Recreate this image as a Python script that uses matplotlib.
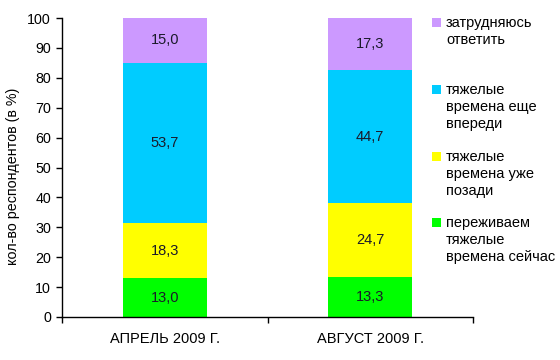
import matplotlib
matplotlib.use("Agg")
import matplotlib.pyplot as plt
from matplotlib.patches import Rectangle
import numpy as np

plt.rcParams['font.family'] = ['Liberation Sans', 'DejaVu Sans']

# data
categories = ['АПРЕЛЬ 2009 Г.', 'АВГУСТ 2009 Г.']
series_names = ['переживаем\nтяжелые\nвремена сейчас',
                'тяжелые\nвремена уже\nпозади',
                'тяжелые\nвремена еще\nвпереди',
                'затрудняюсь\nответить']
now_hard = [13.0, 13.3]
hard_behind = [18.3, 24.7]
hard_ahead = [53.7, 44.7]
hard_to_say = [15.0, 17.3]
colors = ['#00FF00', '#FFFF00', '#00CCFF', '#CC99FF']

series = [now_hard, hard_behind, hard_ahead, hard_to_say]

fig = plt.figure(figsize=(5.6, 3.6), dpi=100)
ax = fig.add_axes([62/560, 1 - 317/360, 411/560, 299/360])

x = np.arange(len(categories))
bottom = np.zeros(len(categories))
for vals, col in zip(series, colors):
    vals = np.array(vals)
    ax.bar(x, vals, width=0.41, bottom=bottom, color=col, edgecolor='none')
    for xi, b, v in zip(x, bottom, vals):
        ax.text(xi, b + v / 2, f'{v:.1f}'.replace('.', ','), ha='center', va='center',
                fontsize=10.5, color='#1a1a2a')
    bottom += vals

ax.set_xlim(-0.5, 1.5)
ax.set_ylim(0, 100)
ax.set_yticks(range(0, 101, 10))
ax.set_xticks(x)
ax.set_xticklabels(categories, fontsize=10.5)
ax.set_xticks([-0.5, 0.5, 1.5], minor=True)
ax.tick_params(axis='x', which='major', length=0, pad=11)
ax.tick_params(axis='x', which='minor', length=4.5, width=1, direction='out')
ax.tick_params(axis='y', length=4, width=1, pad=4, labelsize=10.3)
ax.spines['top'].set_visible(False)
ax.spines['right'].set_visible(False)
ax.spines['left'].set_linewidth(1)
ax.spines['bottom'].set_linewidth(1)
ax.set_ylabel('кол-во респондентов (в %)', fontsize=10.3, labelpad=2)
ax.yaxis.set_label_coords(-42/411, 0.47)

# legend, top entry first
legend_tops = [18, 85, 152, 218]
for top, name, col in zip(legend_tops, series_names[::-1], colors[::-1]):
    fig.patches.append(Rectangle((432/560, 1 - (top + 9)/360), 9/560, 9/360,
                                 transform=fig.transFigure, facecolor=col,
                                 edgecolor='none'))
    fig.text(446/560, 1 - (top - 2)/360, name, ha='left', va='top',
             fontsize=10.5, linespacing=1.28)

fig.savefig('out.png', dpi=100)
